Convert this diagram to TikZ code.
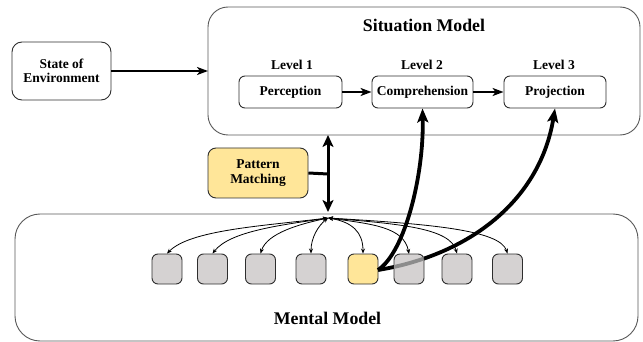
\documentclass[tikz,border=0pt]{standalone}
\usepackage{fontspec}
\setmainfont{Liberation Serif}
\usetikzlibrary{arrows.meta}
\definecolor{boxgray}{HTML}{D5D2D2}
\definecolor{pmyellow}{HTML}{FFE699}
\definecolor{edgegray}{HTML}{2E2E2E}
\tikzset{
  lbl/.style={font=\bfseries\fontsize{13.5}{15.5}\selectfont, align=center, inner sep=0pt},
  title/.style={font=\bfseries\fontsize{17.8}{20}\selectfont, inner sep=0pt},
  levelbox/.style={draw=edgegray, line width=0.9pt, rounded corners=6pt, fill=white,
    minimum height=32pt, inner sep=0pt, lbl},
  unitbox/.style={draw=edgegray, line width=0.9pt, rounded corners=6pt, fill=boxgray,
    minimum width=30pt, minimum height=30pt, inner sep=0pt},
  bigbox/.style={draw=edgegray!80, line width=0.9pt},
  flow/.style={line width=2.4pt, -{Stealth[length=11pt,width=8pt,inset=3pt]}},
  link/.style={line width=0.8pt, {Stealth[length=5pt,width=4pt]}-{Stealth[length=5pt,width=4pt]}},
  feed/.style={line width=3.8pt, -{Stealth[length=14pt,width=11pt,inset=3pt]}},
}
\begin{document}
\begin{tikzpicture}[x=1pt,y=-1pt]
\useasboundingbox (0,0) rectangle (643,342);

% outer model frames
\draw[bigbox, rounded corners=20pt] (208,7) rectangle (640,135);
\coordinate (sitL) at (208,71);
\coordinate (sitB) at (328,135);
\node[title] (sittitle) at (424,25) {Situation Model};

\draw[bigbox, rounded corners=25pt] (15,214) rectangle (638,341);
\node[title] (mentitle) at (327.5,318) {Mental Model};

% environment input
\node[draw=edgegray, line width=0.9pt, rounded corners=10pt, minimum width=99pt,
  minimum height=58pt, lbl] (env) at (61.5,71) {State of\\[-1pt]Environment};
\draw[flow] (env.east) -- (sitL);

% three levels of situation awareness
\node[levelbox, minimum width=103pt] (perc) at (290.5,92) {Perception};
\node[levelbox, minimum width=101pt] (comp) at (422.5,92) {Comprehension};
\node[levelbox, minimum width=102pt] (proj) at (555,92) {Projection};
\node[lbl] (l1) at (292,65) {Level 1};
\node[lbl] (l2) at (422,65) {Level 2};
\node[lbl] (l3) at (554,65) {Level 3};
\draw[flow] (perc.east) -- (comp.west);
\draw[flow] (comp.east) -- (proj.west);

% pattern matching link
\node[draw=edgegray, line width=0.9pt, rounded corners=8pt, fill=pmyellow,
  minimum width=100pt, minimum height=50pt, lbl] (pm) at (258,173) {Pattern\\[-1pt]Matching};
\coordinate (hub) at (328,218);
\coordinate (hubtop) at (328,212);
\coordinate (pmj) at (328,174);
\draw[line width=3pt, {Stealth[length=12pt,width=11pt,inset=3pt]}-{Stealth[length=12pt,width=11pt,inset=3pt]}] (sitB) -- (hubtop);
\draw[line width=3pt] (pm.east) -- (pmj);

% memory units
\node[unitbox] (u1) at (167,269) {};
\node[unitbox] (u2) at (212.5,269) {};
\node[unitbox] (u3) at (260.5,269) {};
\node[unitbox] (u4) at (311,269) {};
\node[unitbox, fill=pmyellow] (u5) at (363,269) {};
\node[unitbox] (u7) at (457,269) {};
\node[unitbox] (u8) at (507.5,269) {};
\coordinate (u6top) at (409,254);

\draw[link] (hub) .. controls (262,226) and (190,230) .. (u1.north);
\draw[link] (hub) .. controls (282,225) and (230,231) .. (u2.north);
\draw[link] (hub) .. controls (300,224) and (267,233) .. (u3.north);
\draw[link] (hub) .. controls (318,226) and (311,238) .. (u4.north);
\draw[link] (hub) .. controls (352,222) and (363,232) .. (u5.north);
\draw[link] (hub) .. controls (372,224) and (404,227) .. (u6top);
\draw[link] (hub) .. controls (400,224) and (450,228) .. (u7.north);
\draw[link] (hub) .. controls (430,224) and (500,230) .. (u8.north);

% projection feed passes behind the sixth unit
\coordinate (src) at (378,270);
\draw[feed] (src) .. controls (470,255) and (540,200) .. (proj.south);
\node[unitbox] (u6) at (409,269) {};
\begin{scope}
  \clip (394.5,254.5) rectangle (423.5,283.5);
  \draw[line width=3.8pt, color=black!45] (src) .. controls (470,255) and (540,200) .. (proj.south);
\end{scope}

% comprehension feed
\draw[feed] (src) .. controls (405,252) and (424,175) .. (comp.south);

\end{tikzpicture}
\end{document}
